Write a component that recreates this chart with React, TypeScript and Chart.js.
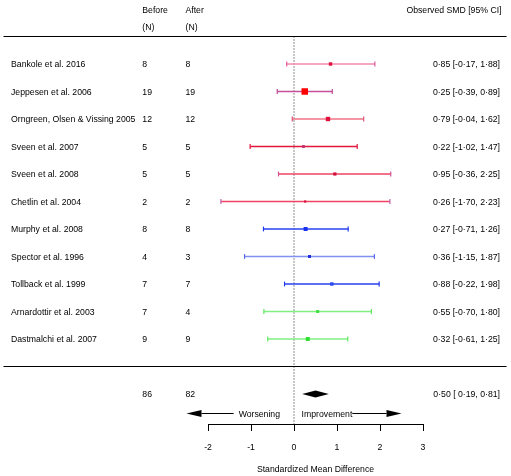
import React, { useEffect, useRef } from "react";
import { Chart, registerables } from "chart.js";

Chart.register(...registerables);

// ---------- data ----------
const studies = [
  "Bankole et al. 2016",
  "Jeppesen et al. 2006",
  "Orngreen, Olsen & Vissing 2005",
  "Sveen et al. 2007",
  "Sveen et al. 2008",
  "Chetlin et al. 2004",
  "Murphy et al. 2008",
  "Spector et al. 1996",
  "Tollback et al. 1999",
  "Arnardottir et al. 2003",
  "Dastmalchi et al. 2007",
];
const beforeN = [8, 19, 12, 5, 5, 2, 8, 4, 7, 7, 9];
const afterN = [8, 19, 12, 5, 5, 2, 8, 3, 7, 4, 9];
const smd = [0.85, 0.25, 0.79, 0.22, 0.95, 0.26, 0.27, 0.36, 0.88, 0.55, 0.32];
const ciLow = [-0.17, -0.39, -0.04, -1.02, -0.36, -1.7, -0.71, -1.15, -0.22, -0.7, -0.61];
const ciHigh = [1.88, 0.89, 1.62, 1.47, 2.25, 2.23, 1.26, 1.87, 1.98, 1.8, 1.25];
const markerSide = [3.4, 6.5, 4.4, 2.8, 3.2, 2.2, 4.0, 3.0, 3.4, 3.0, 4.0];

const totalBefore = 86;
const totalAfter = 82;
const summaryEst = 0.5;
const summaryLow = 0.19;
const summaryHigh = 0.81;

const xTicks = [-2, -1, 0, 1, 2, 3];
const arrowExtent = 2.5;

const lineColors = [
  "#f288ac", "#c4509a", "#f07484", "#e4163c", "#ee4462", "#ee4462",
  "#2840f0", "#8090f2", "#2440f0", "#80f080", "#80f080",
];
const capColors = [
  "#e0589a", "#bc4a8e", "#e05274", "#e0183c", "#d0509a", "#c060a8",
  "#2038e8", "#5868e8", "#2038e8", "#60e860", "#60e860",
];
const pointColors = [
  "#e4103c", "#ff0000", "#e0103e", "#c0306a", "#d4103a", "#d4103a",
  "#1a30f0", "#2030dc", "#2a44f0", "#40e040", "#30e030",
];

// ---------- layout ----------
const FONT = '8.7px "Liberation Sans", Arial, Helvetica, sans-serif';
const FONT_FAMILY = '"Liberation Sans", Arial, Helvetica, sans-serif';
const Y_MIN = -1.327;
const Y_MAX = 14.091;
const SUMMARY_ROW = 13;
const RULE_ROWS = [0, 12];
const ARROW_ROW = 13.69;
const COL_LABEL = 11;
const COL_BEFORE = 142.3;
const COL_AFTER = 185.5;
const COL_CI = 500;
const HEADER_Y1 = 10;
const HEADER_Y2 = 26.7;
const TEXT_DY = 0.8;

const fmt = (v: number) => v.toFixed(2).replace(".", "\u00b7");
const ciText = (e: number, lo: number, hi: number) =>
  `${fmt(e)} [${lo < 0 ? fmt(lo) : " " + fmt(lo)}, ${fmt(hi)}]`;

const annotate = {
  id: "annotate",
  afterDraw(chart: any) {
    const { ctx } = chart;
    const x = chart.scales.x;
    const y = chart.scales.y;
    ctx.save();
    ctx.font = FONT;
    ctx.fillStyle = "#000";
    ctx.textBaseline = "middle";

    // headers
    ctx.textAlign = "left";
    ctx.fillText("Before", COL_BEFORE, HEADER_Y1 + TEXT_DY);
    ctx.fillText("(N)", COL_BEFORE, HEADER_Y2 + TEXT_DY);
    ctx.fillText("After", COL_AFTER, HEADER_Y1 + TEXT_DY);
    ctx.fillText("(N)", COL_AFTER, HEADER_Y2 + TEXT_DY);
    ctx.textAlign = "right";
    ctx.fillText("Observed SMD [95% CI]", COL_CI + 1.5, HEADER_Y1 + TEXT_DY);

    // study rows
    studies.forEach((s, i) => {
      const py = y.getPixelForValue(i + 1) + TEXT_DY;
      ctx.textAlign = "left";
      ctx.fillText(s, COL_LABEL, py);
      ctx.fillText(String(beforeN[i]), COL_BEFORE, py);
      ctx.fillText(String(afterN[i]), COL_AFTER, py);
      ctx.textAlign = "right";
      ctx.fillText(ciText(smd[i], ciLow[i], ciHigh[i]), COL_CI, py);
    });

    // summary row
    const sy = y.getPixelForValue(SUMMARY_ROW);
    ctx.textAlign = "left";
    ctx.fillText(String(totalBefore), COL_BEFORE, sy + TEXT_DY);
    ctx.fillText(String(totalAfter), COL_AFTER, sy + TEXT_DY);
    ctx.textAlign = "right";
    ctx.fillText(ciText(summaryEst, summaryLow, summaryHigh), COL_CI, sy + TEXT_DY);

    // rules
    ctx.strokeStyle = "#000";
    ctx.lineWidth = 1;
    RULE_ROWS.forEach((r) => {
      const py = Math.round(y.getPixelForValue(r)) + 0.5;
      ctx.beginPath();
      ctx.moveTo(3.5, py);
      ctx.lineTo(506.5, py);
      ctx.stroke();
    });

    // summary diamond
    ctx.beginPath();
    ctx.moveTo(x.getPixelForValue(summaryLow), sy);
    ctx.lineTo(x.getPixelForValue(summaryEst), sy - 3.6);
    ctx.lineTo(x.getPixelForValue(summaryHigh), sy);
    ctx.lineTo(x.getPixelForValue(summaryEst), sy + 3.6);
    ctx.closePath();
    ctx.fill();

    // arrows
    const ay = Math.round(y.getPixelForValue(ARROW_ROW)) + 0.5;
    const x0 = x.getPixelForValue(0);
    const tipL = x.getPixelForValue(-arrowExtent);
    const tipR = x.getPixelForValue(arrowExtent);
    const head = 15;
    const hh = 3.5;
    ctx.textAlign = "right";
    const wText = "Worsening";
    const wRight = x0 - 14;
    ctx.fillText(wText, wRight, ay + TEXT_DY);
    const wLeft = wRight - ctx.measureText(wText).width;
    ctx.beginPath();
    ctx.moveTo(tipL + head, ay);
    ctx.lineTo(wLeft - 5, ay);
    ctx.stroke();
    ctx.beginPath();
    ctx.moveTo(tipL, ay);
    ctx.lineTo(tipL + head, ay - hh);
    ctx.lineTo(tipL + head, ay + hh);
    ctx.closePath();
    ctx.fill();

    ctx.textAlign = "left";
    const iText = "Improvement";
    const iLeft = x0 + 7.6;
    ctx.fillText(iText, iLeft, ay + TEXT_DY);
    const iRight = iLeft + ctx.measureText(iText).width;
    ctx.beginPath();
    ctx.moveTo(iRight, ay);
    ctx.lineTo(tipR - head, ay);
    ctx.stroke();
    ctx.beginPath();
    ctx.moveTo(tipR, ay);
    ctx.lineTo(tipR - head, ay - hh);
    ctx.lineTo(tipR - head, ay + hh);
    ctx.closePath();
    ctx.fill();

    ctx.restore();
  },
};

export default function App() {
  const ref = useRef<HTMLCanvasElement | null>(null);

  useEffect(() => {
    if (!ref.current) return;

    const squares = {
      type: "scatter",
      data: smd.map((v, i) => ({ x: v, y: i + 1 })),
      pointStyle: "rect",
      pointRadius: markerSide.map((s) => s / Math.SQRT2),
      pointHoverRadius: markerSide.map((s) => s / Math.SQRT2),
      pointBackgroundColor: pointColors,
      pointBorderWidth: 0,
      showLine: false,
    };

    const bars = studies.map((_, i) => ({
      type: "line",
      data: [
        { x: ciLow[i], y: i + 1 },
        { x: ciHigh[i], y: i + 1 },
      ],
      borderColor: lineColors[i],
      borderWidth: 1.5,
      pointStyle: "line",
      pointRotation: 90,
      pointRadius: 2.4,
      pointBorderColor: capColors[i],
      pointBorderWidth: 1.2,
      showLine: true,
      fill: false,
    }));

    const refLine = {
      type: "line",
      data: [
        { x: 0, y: RULE_ROWS[0] },
        { x: 0, y: Y_MAX },
      ],
      borderColor: "#222",
      borderWidth: 1,
      borderDash: [1, 2],
      pointRadius: 0,
      showLine: true,
      fill: false,
    };

    const chart = new Chart(ref.current, {
      type: "line",
      data: { datasets: [squares, ...bars, refLine] as any },
      plugins: [annotate],
      options: {
        animation: false,
        responsive: false,
        devicePixelRatio: 1,
        layout: { autoPadding: false, padding: { left: 208, right: 88, top: 0, bottom: 0 } },
        plugins: {
          legend: { display: false },
          tooltip: { enabled: false },
          title: { display: false },
        },
        scales: {
          x: {
            type: "linear",
            position: "bottom",
            min: xTicks[0],
            max: xTicks[xTicks.length - 1],
            afterBuildTicks: (s: any) => {
              s.ticks = xTicks.map((v) => ({ value: v }));
            },
            afterFit: (s: any) => {
              s.height = 52;
            },
            ticks: {
              color: "#000",
              padding: 11,
              font: { family: FONT_FAMILY, size: 8.7 },
            },
            grid: {
              display: true,
              drawOnChartArea: false,
              drawTicks: true,
              tickLength: 7,
              color: "#000",
              tickColor: "#000",
            },
            border: { display: true, color: "#000", width: 1 },
            title: {
              display: true,
              text: "Standardized Mean Difference",
              color: "#000",
              font: { family: FONT_FAMILY, size: 8.7 },
              padding: { top: 0, bottom: 1.4 },
            },
          },
          y: {
            type: "linear",
            display: false,
            reverse: true,
            min: Y_MIN,
            max: Y_MAX,
          },
        },
      } as any,
    });

    return () => chart.destroy();
  }, []);

  return (
    <div style={{ position: "absolute", left: 0, top: 0, width: 511, height: 476, background: "#fff" }}>
      <canvas ref={ref} width={511} height={476} style={{ display: "block", width: 511, height: 476 }} />
    </div>
  );
}
